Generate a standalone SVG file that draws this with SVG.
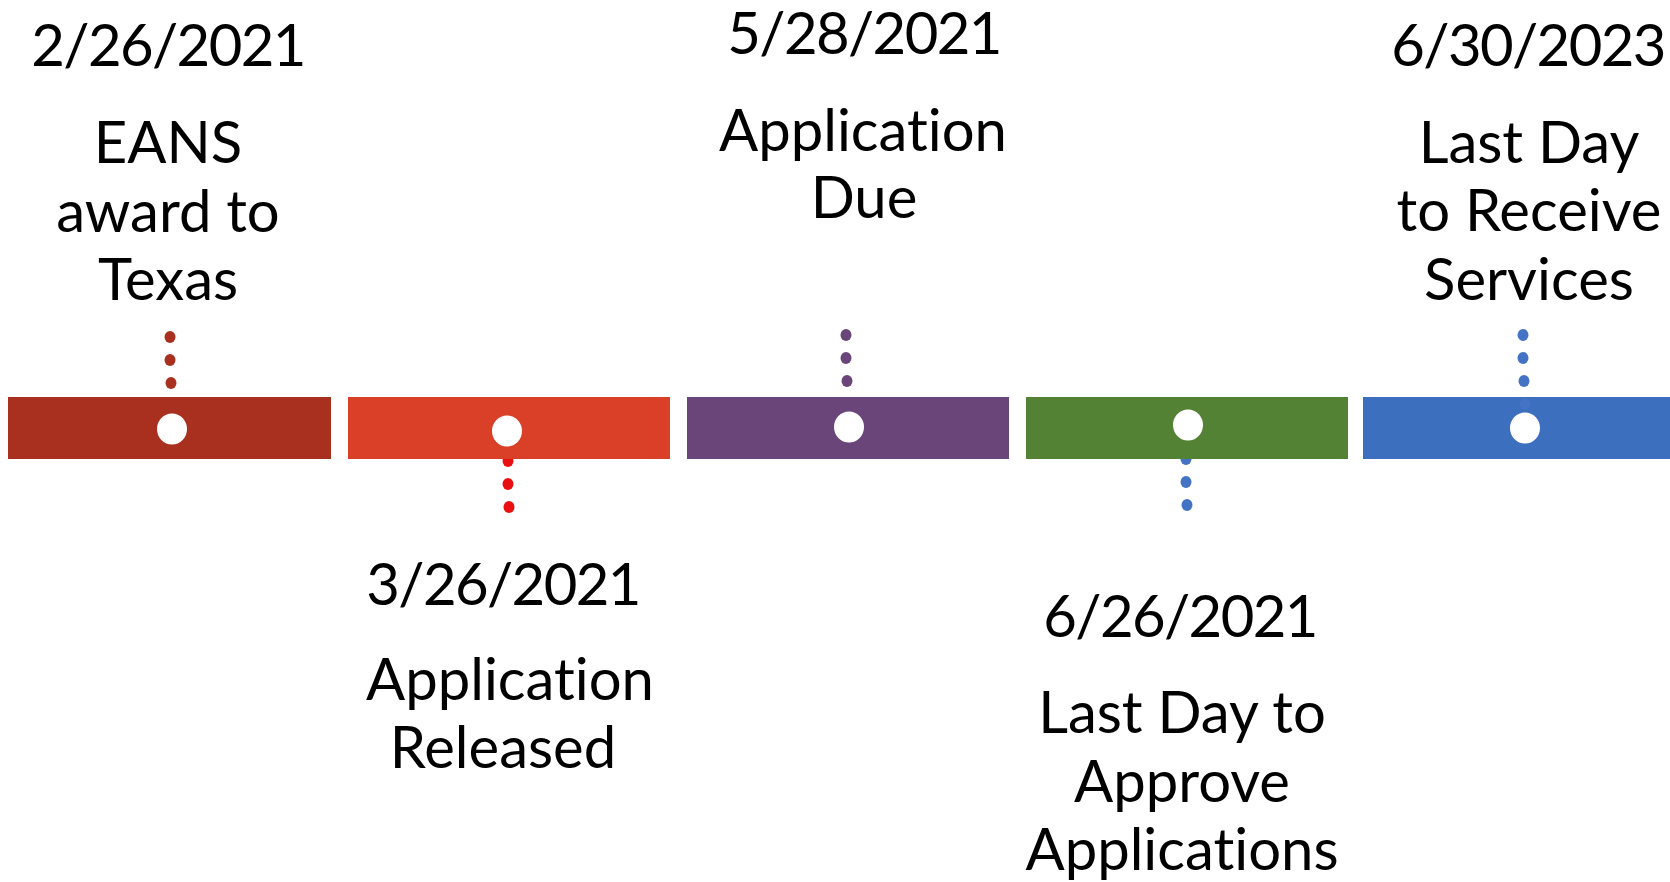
<svg xmlns="http://www.w3.org/2000/svg" width="1670" height="882" viewBox="0 0 1670 882">
<style>
text{font-family:Lato,"Open Sans","Liberation Sans",sans-serif;font-size:58px;fill:#000;text-anchor:middle;font-variant-ligatures:none;font-feature-settings:"liga" 0,"clig" 0}
.date{letter-spacing:-1.6px}
.hole{fill:#fff}
</style>
<rect width="1670" height="882" fill="#fff"/>
<g id="connectors">
<g fill="#A9301F"><ellipse cx="170" cy="337" rx="5.5" ry="6"/><ellipse cx="170" cy="360" rx="5.5" ry="6"/><ellipse cx="171" cy="383" rx="5.5" ry="6"/></g>
<g fill="#E81010"><ellipse cx="508" cy="461" rx="5.5" ry="6"/><ellipse cx="508" cy="484" rx="5.5" ry="6"/><ellipse cx="509" cy="507" rx="5.5" ry="6"/></g>
<g fill="#694579"><ellipse cx="846" cy="335" rx="5.5" ry="6"/><ellipse cx="846" cy="358" rx="5.5" ry="6"/><ellipse cx="847" cy="381" rx="5.5" ry="6"/></g>
<g fill="#4472C4"><ellipse cx="1186" cy="459" rx="5.5" ry="6"/><ellipse cx="1186" cy="482" rx="5.5" ry="6"/><ellipse cx="1187" cy="505" rx="5.5" ry="6"/></g>
<g fill="#4472C4"><ellipse cx="1523" cy="335" rx="5.5" ry="6"/><ellipse cx="1523" cy="358" rx="5.5" ry="6"/><ellipse cx="1524" cy="381" rx="5.5" ry="6"/></g>
</g>
<g id="seg1"><rect x="8" y="397" width="323" height="62" fill="#A9301F"/><ellipse class="hole" cx="172" cy="429" rx="15" ry="15.5"/></g>
<g id="seg2"><rect x="348" y="397" width="322" height="62" fill="#DA4028"/><ellipse class="hole" cx="507" cy="431" rx="15" ry="15.5"/></g>
<g id="seg3"><rect x="687" y="397" width="322" height="62" fill="#694579"/><ellipse class="hole" cx="849" cy="427" rx="15" ry="15.5"/></g>
<g id="seg4"><rect x="1026" y="397" width="322" height="62" fill="#548235"/><ellipse class="hole" cx="1188" cy="425" rx="15" ry="15.5"/></g>
<g id="seg5"><rect x="1363" y="397" width="307" height="62" fill="#3C6FBE"/><ellipse cx="1525" cy="404" rx="5.5" ry="5.5" fill="#4472C4"/><ellipse class="hole" cx="1525" cy="428" rx="15" ry="15.5"/></g>
<g id="label1"><text class="date" x="168" y="66">2/26/2021</text><text x="168" y="163">EANS</text><text x="168" y="232">award to</text><text x="168" y="300">Texas</text></g>
<g id="label2"><text class="date" x="503" y="605">3/26/2021</text><text x="510" y="700">Application</text><text x="503" y="768">Released</text></g>
<g id="label3"><text class="date" x="864" y="54">5/28/2021</text><text x="863" y="151">Application</text><text x="864" y="218">Due</text></g>
<g id="label4"><text class="date" x="1180" y="637">6/26/2021</text><text x="1182" y="733">Last Day to</text><text x="1182" y="802">Approve</text><text x="1182" y="870">Applications</text></g>
<g id="label5"><text class="date" x="1528" y="66">6/30/2023</text><text x="1529" y="163">Last Day</text><text x="1529" y="231">to Receive</text><text x="1529" y="300">Services</text></g>
</svg>
